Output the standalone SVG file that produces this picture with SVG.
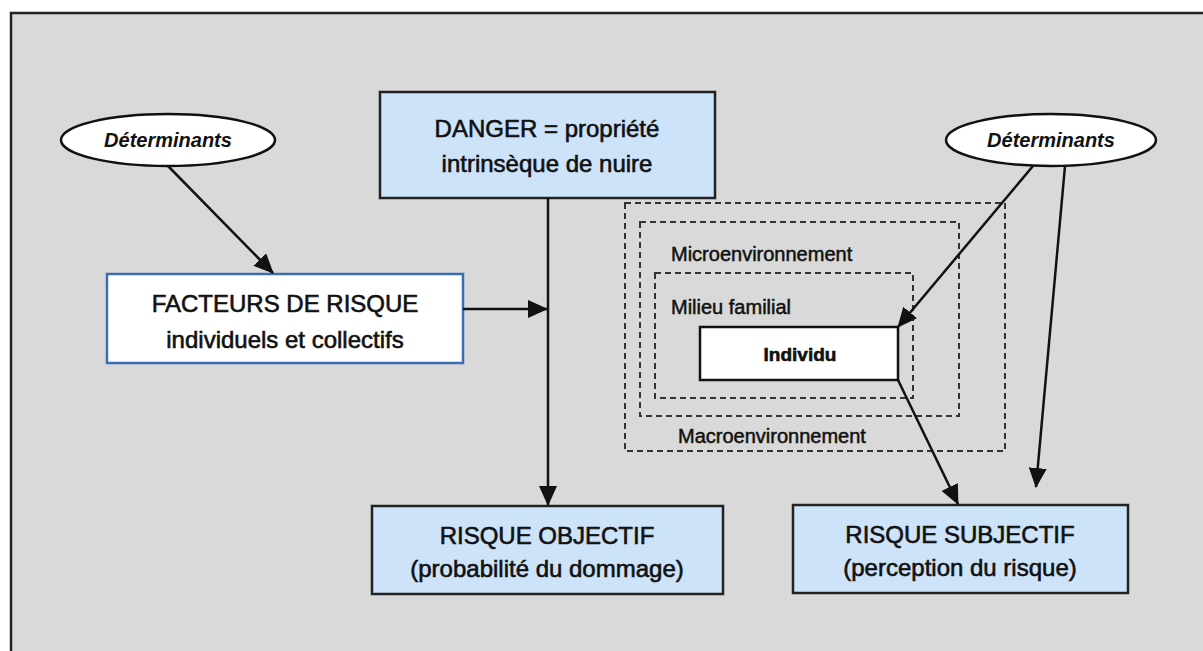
<svg xmlns="http://www.w3.org/2000/svg" width="1203" height="651" viewBox="0 0 1203 651">
<defs>
<marker id="ah" markerUnits="userSpaceOnUse" markerWidth="20" markerHeight="18" refX="19" refY="9" orient="auto">
<path d="M0,0 L20,9 L0,18 Z" fill="#111"/>
</marker>
<style>
.t{font-family:"Liberation Sans",Arial,sans-serif;fill:#111;stroke:#111;stroke-width:0.6;text-anchor:middle}
.big{font-size:24px}
.lab{font-family:"Liberation Sans",Arial,sans-serif;fill:#111;stroke:#111;stroke-width:0.5;font-size:20px}
.det{font-family:"Liberation Sans",Arial,sans-serif;fill:#111;font-size:20px;font-style:italic;font-weight:bold;text-anchor:middle}
.blue{fill:#cde3fa;stroke:#222;stroke-width:2.5}
.dash{fill:none;stroke:#333;stroke-width:2;stroke-dasharray:6 4}
.ell{fill:#fff;stroke:#111;stroke-width:2.5}
.con{fill:none;stroke:#111;stroke-width:2.5}
</style>
</defs>
<rect x="0" y="0" width="1203" height="651" fill="#fff"/>
<rect x="11" y="13" width="1200" height="645" fill="#d9d9d9" stroke="#222" stroke-width="2.5"/>

<g id="det-left">
<ellipse class="ell" cx="168" cy="140" rx="107" ry="26"/>
<text class="det" x="168" y="147">Déterminants</text>
</g>
<g id="det-right">
<ellipse class="ell" cx="1051" cy="140" rx="105" ry="26"/>
<text class="det" x="1051" y="147">Déterminants</text>
</g>
<g id="danger">
<rect class="blue" x="380" y="92" width="335" height="106"/>
<text class="t big" x="547" y="137">DANGER = propriété</text>
<text class="t big" x="547" y="172">intrinsèque de nuire</text>
</g>
<g id="facteurs">
<rect x="107" y="274" width="356" height="89" fill="#fff" stroke="#3b6fb3" stroke-width="2.5"/>
<text class="t big" x="285" y="312">FACTEURS DE RISQUE</text>
<text class="t big" x="285" y="348">individuels et collectifs</text>
</g>
<g id="macro">
<rect class="dash" x="625" y="203" width="380" height="248"/>
<text class="lab" x="678" y="443">Macroenvironnement</text>
</g>
<g id="micro">
<rect class="dash" x="640" y="222" width="319" height="194"/>
<text class="lab" x="671" y="261">Microenvironnement</text>
</g>
<g id="milieu">
<rect class="dash" x="655" y="273" width="258" height="125"/>
<text class="lab" x="671" y="314">Milieu familial</text>
</g>
<g id="individu">
<rect x="700" y="327" width="198" height="53" fill="#fff" stroke="#111" stroke-width="2.5"/>
<text class="t" x="800" y="361" font-size="19" font-weight="bold" stroke-width="0.2">Individu</text>
</g>
<g id="objectif">
<rect class="blue" x="372" y="506" width="351" height="88"/>
<text class="t big" x="547" y="544">RISQUE OBJECTIF</text>
<text class="t big" x="547" y="577">(probabilité du dommage)</text>
</g>
<g id="subjectif">
<rect class="blue" x="793" y="505" width="335" height="88"/>
<text class="t big" x="960" y="543">RISQUE SUBJECTIF</text>
<text class="t big" x="960" y="576">(perception du risque)</text>
</g>

<g id="connectors">
<line class="con" x1="168" y1="166" x2="273" y2="273" marker-end="url(#ah)"/>
<line class="con" x1="548" y1="198" x2="548" y2="505" marker-end="url(#ah)"/>
<line class="con" x1="463" y1="309" x2="547" y2="309" marker-end="url(#ah)"/>
<line class="con" x1="1033" y1="166" x2="898" y2="327" marker-end="url(#ah)"/>
<line class="con" x1="898" y1="380" x2="958" y2="504" marker-end="url(#ah)"/>
<line class="con" x1="1065" y1="166" x2="1036" y2="487" marker-end="url(#ah)"/>
</g>
</svg>
